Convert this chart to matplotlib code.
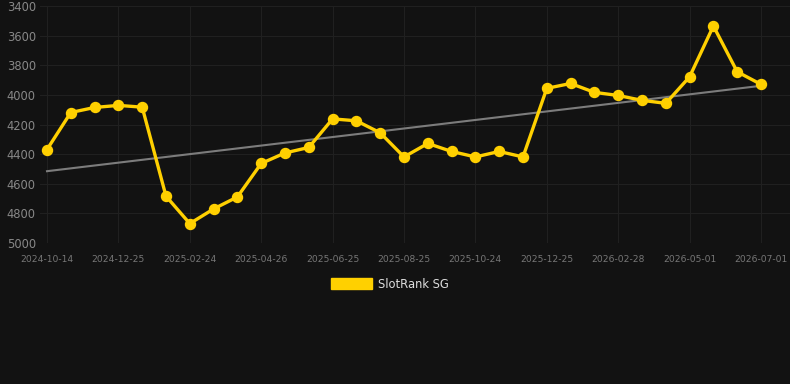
import numpy as np
import matplotlib
matplotlib.use("Agg")
import matplotlib.pyplot as plt
from matplotlib.patches import Patch

# rank values (lower is better, axis is inverted)
ranks = [4369, 4119, 4085, 4071, 4083, 4684, 4869, 4770, 4689, 4463,
         4392, 4355, 4162, 4175, 4256, 4419, 4328, 4382, 4419, 4382,
         4419, 3956, 3923, 3983, 4004, 4037, 4057, 3878, 3535, 3844, 3929]
tick_labels = ['2024-10-14', '2024-12-25', '2025-02-24', '2025-04-26',
               '2025-06-25', '2025-08-25', '2025-10-24', '2025-12-25',
               '2026-02-28', '2026-05-01', '2026-07-01']
y_ticks = [3400, 3600, 3800, 4000, 4200, 4400, 4600, 4800, 5000]

bg = '#121212'
yellow = '#FFD000'

fig = plt.figure(figsize=(7.9, 3.84), dpi=100, facecolor=bg)
ax = fig.add_axes([40 / 790, 1 - 243 / 384, 750 / 790, 237 / 384], facecolor=bg)

x = np.arange(len(ranks))
slope, icpt = np.polyfit(x, ranks, 1)
ax.plot(x, slope * x + icpt, color='#7c7c7c', lw=1.5, zorder=2)
ax.plot(x, ranks, color=yellow, lw=2.4, marker='o', ms=7.2, zorder=3)

per = 714 / 30  # px per index
ax.set_xlim(-7 / per, 30 + 29 / per)
ax.set_ylim(5000, 3400)

ax.set_xticks(np.arange(0, len(ranks), 3))
ax.set_xticklabels(tick_labels)
ax.set_yticks(y_ticks)
ax.tick_params(axis='x', colors='#777777', labelsize=6.6, length=0, pad=9)
ax.tick_params(axis='y', colors='#888888', labelsize=8.3, length=0, pad=3)
ax.grid(True, color='#202020', lw=0.8)
for s in ax.spines.values():
    s.set_visible(False)

handle = Patch(facecolor=yellow, edgecolor=yellow)
leg = fig.legend([handle], ['SlotRank SG'], loc='center', bbox_to_anchor=(390 / 790, 1 - 284 / 384),
                 frameon=False, handlelength=3.6, handleheight=1.0, handletextpad=0.5,
                 fontsize=8.3, labelcolor='#dddddd')

fig.savefig('out.png', dpi=100, facecolor=bg)
